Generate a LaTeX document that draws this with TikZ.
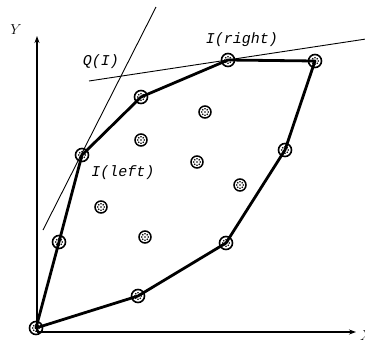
\documentclass[tikz,border=0pt]{standalone}
\usepackage{fontspec}
\newfontfamily\lmono{Liberation Mono}
\usetikzlibrary{arrows.meta}
\tikzset{
  hull/.style={line width=2.8pt, line join=round, line cap=round},
  thinline/.style={line width=0.9pt},
  axis/.style={line width=1.1pt, -{Stealth[length=7pt,width=5pt]}},
  dots/.style={path picture={
    \foreach \a/\b in {-2.2/2.2,2.2/2.2,0/0,-2.2/-2.2,2.2/-2.2,0/3.2,0/-3.2,-3.2/0,3.2/0}
      \fill ([shift={(\a pt,\b pt)}]path picture bounding box.center) circle (0.9pt);}},
  hullpt/.style={circle, draw, line width=1.6pt, minimum size=13pt, inner sep=0pt, dots},
  innerpt/.style={circle, draw, line width=1.5pt, minimum size=12pt, inner sep=0pt, dots},
  lbl/.style={font=\lmono\itshape\fontsize{15}{15}\selectfont, inner sep=0pt},
}
\begin{document}
\begin{tikzpicture}[x=1pt,y=-1pt]
\useasboundingbox (0,0) rectangle (365,343);
% axes
\coordinate (o) at (37,332);
\coordinate (ytop) at (37,36);
\coordinate (xend) at (356,332);
\draw[axis] (o) -- (ytop);
\draw[axis] (o) -- (xend);
\node[font=\fontsize{15}{15}\selectfont] (ylab) at (16,30) {$Y$};
\node[font=\fontsize{15}{15}\selectfont, anchor=west, inner sep=0pt] (xlab) at (360,336) {$X$};
% hull vertices
\coordinate (p0) at (36,328);
\coordinate (p1) at (59,242);
\coordinate (p2) at (82,155);
\coordinate (p3) at (141,97);
\coordinate (p4) at (228,60);
\coordinate (p5) at (315,61);
\coordinate (p6) at (285,150);
\coordinate (p7) at (226,243);
\coordinate (p8) at (138,296);
% support lines
\coordinate (q1) at (43,230);
\coordinate (q2) at (156,7);
\coordinate (t1) at (89,81);
\coordinate (t2) at (366,39);
\draw[thinline] (q1) -- (q2);
\draw[thinline] (t1) -- (t2);
\draw[hull] (p0) -- (p1) -- (p2) -- (p3) -- (p4) -- (p5) -- (p6) -- (p7) -- (p8) -- cycle;
% hull point markers
\foreach \i in {0,...,8} \node[hullpt] (c\i) at (p\i) {};
% interior points
\node[innerpt] (i1) at (205,112) {};
\node[innerpt] (i2) at (141,140) {};
\node[innerpt] (i3) at (197,162) {};
\node[innerpt] (i4) at (240,185) {};
\node[innerpt] (i5) at (101,207) {};
\node[innerpt] (i6) at (145,237) {};
% labels
\node[lbl] (lq) at (101,62) {Q(I)};
\node[lbl] (lr) at (242,40) {I(right)};
\node[lbl] (ll) at (123,173) {I(left)};
\end{tikzpicture}
\end{document}
